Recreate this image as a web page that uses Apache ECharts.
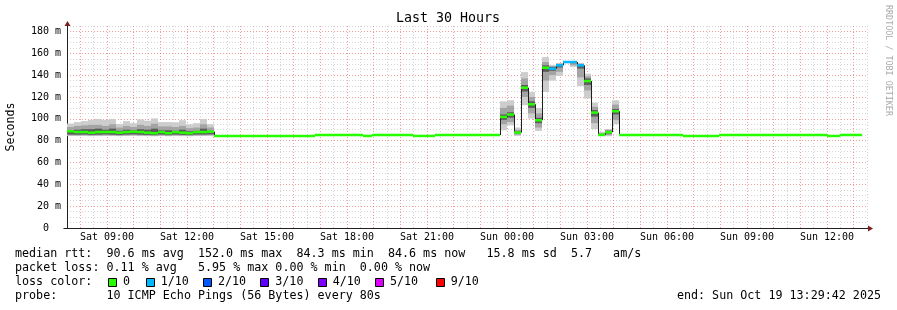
<!DOCTYPE html>
<html><head><meta charset="utf-8">
<script src="https://cdn.jsdelivr.net/npm/echarts@6/dist/echarts.min.js"></script>
<style>html,body{margin:0;padding:0;background:#fff}#c{width:897px;height:310px}</style>
</head><body><div id="c"></div>
<script>
// ---------- data ----------
const xTickHours = [9, 12, 15, 18, 21, 24, 27, 30, 33, 36];
const xTickLabels = ['Sat 09:00','Sat 12:00','Sat 15:00','Sat 18:00','Sat 21:00','Sun 00:00','Sun 03:00','Sun 06:00','Sun 09:00','Sun 12:00'];
const yTickValues = [0, 20, 40, 60, 80, 100, 120, 140, 160, 180];
const yTickLabels = ['0  ','20 m','40 m','60 m','80 m','100 m','120 m','140 m','160 m','180 m'];

const binHours = 0.2625;            // width of one consolidated step (hours)

// Sat 07:30 - 13:00 : smoke + median
const seg1Start = 7.5;
const seg1Median = [88.6, 87.9, 87.9, 87.3, 87.9, 87.9, 87.9, 87.3, 87.9, 88.2, 87.9, 87.3, 86.8, 87.9, 86.8, 87.9, 87.3, 86.8, 87.9, 87.9, 88.2];
const seg1Loss = [0,0,0,0,0,0,0,0,0,0,0,0,0,0,0,0,0,0,0,0,0];
// sorted ping quantiles per step: [outerLo, midLo, innerLo, innerHi, midHi, outerHi]
const seg1Smoke = [
  [84.2,84.8,85.6,89.5,92.5,95.7],[84.2,84.8,85.5,90.0,93.5,97.0],[84.2,84.9,85.6,90.5,94.0,97.9],
  [84.1,84.7,85.3,90.5,94.5,99.0],[84.2,84.8,85.5,91.0,94.5,99.9],[84.3,84.9,85.7,90.0,93.5,99.0],
  [84.2,84.8,85.5,91.0,95.0,99.9],[84.1,84.6,85.2,89.0,92.0,95.3],[84.2,84.8,85.6,90.0,93.5,97.9],
  [84.3,85.0,85.8,89.5,92.5,96.0],[84.2,84.8,85.5,90.5,94.5,99.5],[84.1,84.7,85.3,90.0,93.5,98.3],
  [84.0,84.5,85.1,91.0,95.5,100.4],[84.2,84.8,85.6,89.5,93.0,97.0],[84.0,84.5,85.1,89.5,93.0,97.0],
  [84.2,84.8,85.6,89.0,92.5,96.8],[84.1,84.7,85.3,90.0,93.5,98.7],[84.0,84.5,85.1,88.5,91.5,95.0],
  [84.2,84.8,85.6,89.0,92.0,96.0],[84.2,84.8,85.6,91.0,95.0,99.9],[84.3,85.0,85.8,89.0,92.0,95.0]
];

// Sat 13:00 - 23:44 : flat median (change points)
const flat1Times = [13.0125, 16.8, 18.6, 18.94, 20.475, 21.3];
const flat1Values = [84.3, 85.2, 84.3, 85.2, 84.3, 85.2];

// Sat 23:44 - Sun 04:12 : smoke + median
const seg2Start = 23.7375;
const seg2Median = [101.7, 103.9, 87.4, 128.5, 113.3, 98.7, 146.8, 145.9, 149.0, 152.0, 152.0, 149.0, 134.6, 105.7, 85.3, 87.7, 106.9];
const seg2Loss = [0,0,0,0,0,0,0,1,1,1,1,1,0,0,0,0,0];
const seg2Smoke = [
  [89.5,95,99,104,110,116],[94,97,101,106,112,117],[84.3,85.5,86.5,88.5,90,92],
  [112.4,120,125,131,137,142.8],[100.2,105,110,116,120,124.6],[88.9,92,96,101,105,110],
  [124.6,135,143,149,152,156.5],[135,140,144,147.5,148.5,149],[139.2,143,147,150,150.5,151],
  [151,151.5,151.8,152.2,152.4,152.5],[147.4,149,151,152.2,152.4,152.5],[130,138,146,150,150.5,151],
  [118.5,126,131,137,139,141.4],[90.5,96,102,108,111,114.8],[84,84.3,84.8,86,87,88],
  [84,85,86.5,89,90,90.5],[95,99,104,109,113,117]
];

// Sun 04:12 - 13:18 : flat median (change points)
const flat2Times = [28.2, 30.6, 31.95, 36.0, 36.49];
const flat2Values = [85.2, 84.3, 85.2, 84.3, 85.2];
const dataEnd = 37.31;

const lossLabels = ['0','1/10','2/10','3/10','4/10','5/10','9/10'];
const lossColors = ['#26ff00','#00b8ff','#0059ff','#5e00ff','#7e00ff','#dd00ff','#ff0000'];

const legendLines = [
  'median rtt:  90.6 ms avg  152.0 ms max  84.3 ms min  84.6 ms now   15.8 ms sd  5.7   am/s',
  'packet loss: 0.11 % avg   5.95 % max 0.00 % min  0.00 % now',
  'loss color:',
  'probe:       10 ICMP Echo Pings (56 Bytes) every 80s'
];
const endText = 'end: Sun Oct 19 13:29:42 2025';
const titleText = 'Last 30 Hours';

// ---------- build ----------
const X_MIN = 7.5, X_MAX = 37.5, Y_MAX = 185;
const MONO = '"DejaVu Sans Mono", monospace';
const SHADES = ['#cdcdcd', '#a4a4a4', '#5c5c5c'];
const RED = 'rgba(235,90,90,0.6)', GRAY = 'rgba(160,160,160,0.45)';

const smokeRects = [];
const pieces = []; // [x0, x1, value, loss, prevValue]
function addPiece(x0, x1, v, loss) {
  const prev = pieces.length ? pieces[pieces.length - 1][2] : v;
  pieces.push([x0, x1, v, loss, prev]);
}
function addSeg(start, med, loss, smoke) {
  med.forEach((v, i) => {
    const x0 = start + i * binHours, x1 = start + (i + 1) * binHours;
    addPiece(x0, x1, v, loss[i]);
    for (let k = 0; k < 3; k++) smokeRects.push([x0, x1, smoke[i][k], smoke[i][5 - k], k]);
  });
}
function addFlat(times, vals, end) {
  times.forEach((t, i) => addPiece(t, i + 1 < times.length ? times[i + 1] : end, vals[i], 0));
}
addSeg(seg1Start, seg1Median, seg1Loss, seg1Smoke);
addFlat(flat1Times, flat1Values, seg2Start);
addSeg(seg2Start, seg2Median, seg2Loss, seg2Smoke);
addFlat(flat2Times, flat2Values, dataEnd);

const chart = echarts.init(document.getElementById('c'), null, {renderer: 'canvas'});
chart.setOption({
  animation: false,
  backgroundColor: '#ffffff',
  grid: {left: 67, right: 30, top: 26, bottom: 82},
  xAxis: {
    type: 'value', min: X_MIN, max: X_MAX, interval: 0.5,
    axisLine: {show: true, onZero: false, lineStyle: {color: '#202020', width: 1}},
    axisTick: {show: false},
    axisLabel: {
      margin: 4, fontFamily: MONO, fontSize: 10, color: '#000',
      formatter: v => { const i = xTickHours.findIndex(h => Math.abs(h - v) < 1e-6); return i >= 0 ? xTickLabels[i] : ''; }
    },
    splitLine: {show: true, lineStyle: {color: [GRAY, RED], type: [1, 2], width: 1}}
  },
  yAxis: {
    type: 'value', min: 0, max: Y_MAX, interval: 5,
    axisLine: {show: true, onZero: false, lineStyle: {color: '#202020', width: 1}},
    axisTick: {show: false},
    axisLabel: {
      margin: 6, fontFamily: MONO, fontSize: 10, color: '#000',
      formatter: v => { const i = yTickValues.findIndex(t => Math.abs(t - v) < 1e-6); return i >= 0 ? yTickLabels[i] : ''; }
    },
    splitLine: {show: true, lineStyle: {color: [RED, GRAY, GRAY, GRAY], type: [1, 2], width: 1}}
  },
  series: [
    {
      type: 'custom', silent: true, clip: true, data: smokeRects,
      encode: {x: [0, 1], y: [2, 3]},
      renderItem: (params, api) => {
        const a = api.coord([api.value(0), api.value(3)]);
        const b = api.coord([api.value(1), api.value(2)]);
        const x0 = Math.round(a[0]), x1 = Math.round(b[0]);
        return {type: 'rect', shape: {x: x0, y: a[1], width: x1 - x0, height: b[1] - a[1]},
                style: {fill: SHADES[api.value(4)]}};
      }
    },
    {
      type: 'custom', silent: true, clip: true, data: pieces,
      encode: {x: [0, 1], y: [2, 4]},
      renderItem: (params, api) => {
        const x0 = Math.round(api.coord([api.value(0), 0])[0]);
        const x1 = Math.round(api.coord([api.value(1), 0])[0]);
        const y = api.coord([0, api.value(2)])[1];
        const yp = api.coord([0, api.value(4)])[1];
        const st = {stroke: '#202020', lineWidth: 1};
        return {type: 'group', children: [
          {type: 'line', shape: {x1: x0 + 0.5, y1: yp, x2: x0 + 0.5, y2: y}, style: st},
          {type: 'line', shape: {x1: x0, y1: y, x2: x1, y2: y}, style: st}
        ]};
      }
    },
    {
      type: 'custom', silent: true, clip: true, data: pieces,
      encode: {x: [0, 1], y: 2},
      renderItem: (params, api) => {
        const x0 = Math.round(api.coord([api.value(0), 0])[0]);
        const x1 = Math.round(api.coord([api.value(1), 0])[0]);
        const yt = api.coord([0, api.value(2) + 1.15])[1];
        const yb = api.coord([0, api.value(2) - 1.15])[1];
        return {type: 'rect', shape: {x: x0, y: yt, width: x1 - x0, height: yb - yt},
                style: {fill: lossColors[api.value(3)]}};
      }
    }
  ]
});

// ---------- texts, legend, arrows ----------
const p0 = chart.convertToPixel({gridIndex: 0}, [X_MIN, 0]);
const p1 = chart.convertToPixel({gridIndex: 0}, [X_MAX, Y_MAX]);
const AX = '#7f2020';
const txt = (text, x, y, size, extra) => Object.assign({type: 'text', x: x, y: y, silent: true,
  style: Object.assign({text: text, fontFamily: MONO, fontSize: size, fill: '#000', align: 'left', verticalAlign: 'middle'}, extra || {})});

const els = [];
els.push(txt(titleText, 448, 19, 13.3, {align: 'center'}));
els.push(Object.assign(txt('Seconds', 11, 127, 11.6, {align: 'center'}), {rotation: Math.PI / 2}));
els.push(Object.assign(txt('RRDTOOL / TOBI OETIKER', 888, 5, 8.4, {fill: '#aaaaaa'}), {rotation: -Math.PI / 2}));
const lineY = [254, 268, 282, 296];
legendLines.forEach((s, i) => els.push(txt(s, 15, lineY[i], 11.7)));
els.push(txt(endText, 881, 296, 11.7, {align: 'right'}));
const boxX = [108, 145.7, 203, 260.3, 317.7, 375, 435.7];
lossLabels.forEach((lab, i) => {
  els.push({type: 'rect', silent: true, shape: {x: Math.round(boxX[i]) + 0.5, y: 278.5, width: 8, height: 8},
            style: {fill: lossColors[i], stroke: '#000', lineWidth: 1}});
  els.push(txt(lab, boxX[i] + 15, 282, 11.7));
});
// axis arrows
const gx = Math.round(p0[0]) + 0.5, gyTop = p1[1], gy = Math.round(p0[1]) + 0.5, gxR = p1[0];
els.push({type: 'line', silent: true, shape: {x1: gx, y1: gyTop, x2: gx, y2: gyTop - 2}, style: {stroke: '#202020', lineWidth: 1}});
els.push({type: 'polygon', silent: true, shape: {points: [[gx - 3, gyTop], [gx + 3, gyTop], [gx, gyTop - 5]]}, style: {fill: AX}});
els.push({type: 'line', silent: true, shape: {x1: gxR, y1: gy, x2: gxR + 2, y2: gy}, style: {stroke: '#202020', lineWidth: 1}});
els.push({type: 'polygon', silent: true, shape: {points: [[gxR + 1, gy - 3], [gxR + 1, gy + 3], [gxR + 6, gy]]}, style: {fill: AX}});
els.push({type: 'line', silent: true, shape: {x1: gx - 4, y1: gy, x2: gx, y2: gy}, style: {stroke: '#202020', lineWidth: 1}});
chart.setOption({graphic: {elements: els}});
</script></body></html>
